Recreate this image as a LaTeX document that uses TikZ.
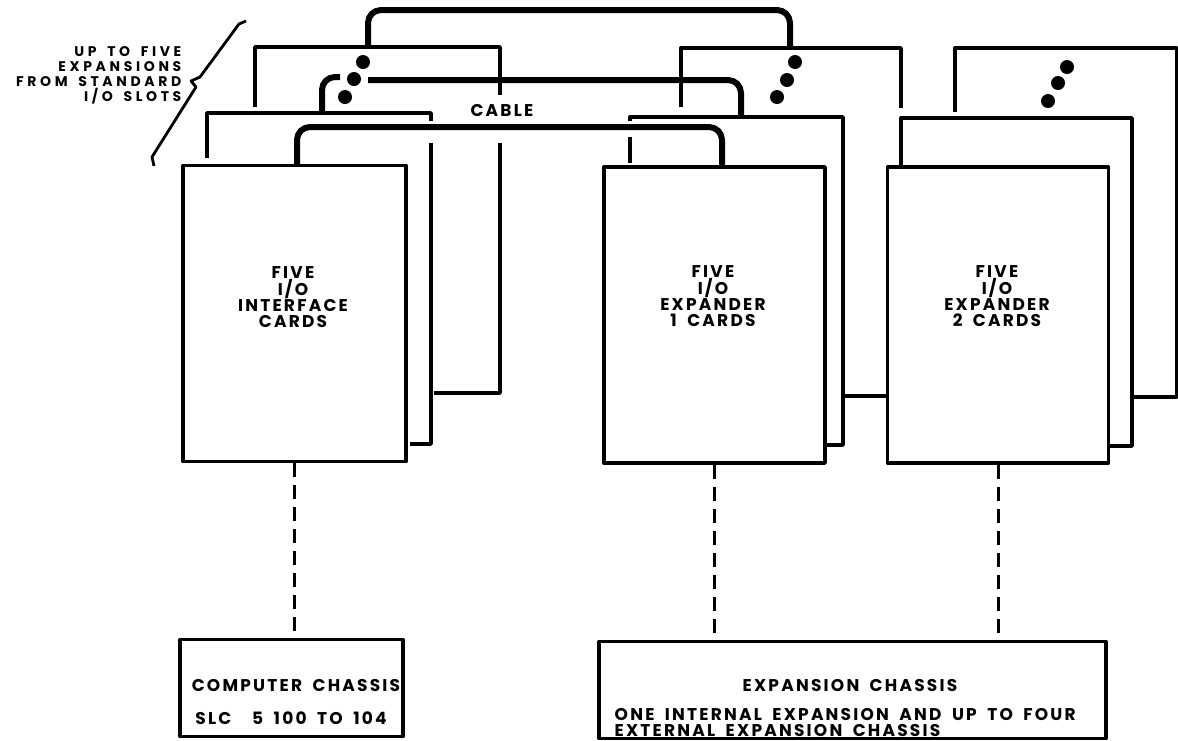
\documentclass[tikz,border=0pt]{standalone}
\usepackage{fontspec}
\newfontfamily\lettering{Poppins}[LetterSpace=13,WordSpace=1.8]
\newfontfamily\braceletters{Poppins}[LetterSpace=26,WordSpace=1.6]
\begin{document}
\begin{tikzpicture}[x=1pt,y=-1pt,line width=3.4pt,line join=round,
  frontcard/.style={draw,inner sep=0pt,minimum width=221pt,minimum height=296pt},
  chassis/.style={draw,line width=3.8pt,inner sep=0pt,minimum height=97pt},
  cable/.style={line width=6pt,rounded corners=13pt},
  link/.style={line width=3pt,dash pattern=on 14pt off 8pt},
  lbl/.style={font=\lettering\bfseries\fontsize{17}{16}\selectfont,inner sep=0pt},
  bracelbl/.style={font=\braceletters\bfseries\fontsize{14}{15}\selectfont,inner sep=0pt}]
\useasboundingbox (0,0) rectangle (1178,740);
\node[frontcard,minimum width=223pt] (L1) at (294.5,313.5) {};
\node[frontcard] (M1) at (714.5,315) {};
\node[frontcard] (R1) at (998,315) {};
\draw (207,158) -- (207,113) -- (431,113) -- (431,121);
\draw (431,143) -- (431,444) -- (410,444);
\draw (255,107) -- (255,47) -- (500,47) -- (500,95);
\draw (500,143) -- (500,393) -- (434,393);
\draw (630,163) -- (630,137);
\draw (630,121) -- (630,117) -- (843,117) -- (843,445) -- (825,445);
\draw (681,107) -- (681,48) -- (901,48) -- (901,108);
\draw (843,396) -- (887,396);
\draw (901,165) -- (901,118) -- (1132,118) -- (1132,446) -- (1108,446);
\draw (955,112) -- (955,48) -- (1177,48) -- (1177,397) -- (1132,397);
\draw[cable] (368,47) -- (368,10) -- (790,10) -- (790,48);
\draw[cable] (322,113) -- (322,77) -- (340,77);
\draw[cable] (368,80) -- (741,80) -- (741,117);
\draw[cable] (297,165) -- (297,127) -- (722,127) -- (722,168);
\foreach \x/\y in {363/62,354/79,345/97,795/62,787/80,777/97,1067/67,1058/83,1048/101}
  \fill (\x,\y) circle[radius=7pt];
\node[lbl] (cablelbl) at (502,111) {CABLE};
\draw[line width=2.8pt] (246,21) -- (239,24) -- (200,77) -- (191,81) -- (196,87) -- (152,157) -- (154,166);
\node[bracelbl,align=right,anchor=east] (slots) at (183,75) {UP TO FIVE\\EXPANSIONS\\FROM STANDARD\\I/O SLOTS};
\node[lbl,align=center] (L1t) at (293,297) {FIVE\\I/O\\INTERFACE\\CARDS};
\node[lbl,align=center] (M1t) at (713,296) {FIVE\\I/O\\EXPANDER\\1 CARDS};
\node[lbl,align=center] (R1t) at (997,296) {FIVE\\I/O\\EXPANDER\\2 CARDS};
\node[chassis,minimum width=223pt] (cc) at (291.5,688) {};
\node[chassis,minimum width=507pt] (ec) at (852.5,690) {};
\draw[link] (L1.south) -- (L1.south |- cc.north);
\draw[link] (M1.south) -- (M1.south |- ec.north);
\draw[link] (R1.south) -- (R1.south |- ec.north);
\node[lbl] (cct) at (296,685) {COMPUTER CHASSIS};
\node[lbl] (ccs) at (291,718) {SLC\ \ 5 100 TO 104};
\node[lbl] (ect) at (850,685) {EXPANSION CHASSIS};
\node[lbl,anchor=west] (ecs) at (613,714) {ONE INTERNAL EXPANSION AND UP TO FOUR};
\node[lbl,anchor=west] (ecs2) at (613,730) {EXTERNAL EXPANSION CHASSIS};
\end{tikzpicture}
\end{document}
